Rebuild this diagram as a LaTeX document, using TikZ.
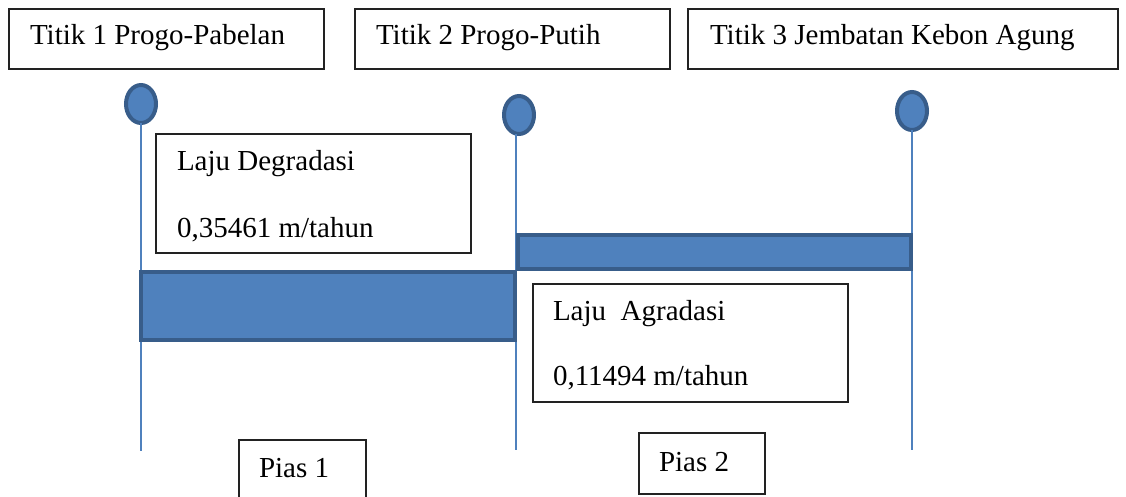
\documentclass[tikz,border=0pt]{standalone}
\usepackage{fontspec}
\setmainfont{Liberation Serif}
\usetikzlibrary{shapes.geometric}
\definecolor{barfill}{HTML}{4F81BD}
\definecolor{barline}{HTML}{385D8A}
\definecolor{boxline}{HTML}{222222}
\tikzset{
  box/.style={draw=boxline, line width=1.3pt, fill=white, inner sep=0pt, outer sep=0pt},
  lbl/.style={inner sep=0pt, outer sep=0pt, anchor=base west, font=\fontsize{29}{34}\selectfont},
  pin/.style={ellipse, draw=barline, fill=barfill, line width=4pt, minimum width=30pt, minimum height=38pt, inner sep=0pt, outer sep=0pt},
  bar/.style={draw=barline, fill=barfill, line width=4pt, inner sep=0pt, outer sep=0pt},
  pole/.style={draw=barfill, line width=1.6pt}
}
\begin{document}
\begin{tikzpicture}[x=1pt,y=-1pt]
\useasboundingbox (0,0) rectangle (1126,497);
% end points of the poles
\coordinate (e1) at (141,451);
\coordinate (e2) at (516,450);
\coordinate (e3) at (912,450);
% pins
\node[pin] (c1) at (141,104) {};
\node[pin] (c2) at (519,115) {};
\node[pin] (c3) at (912,111) {};
% poles
\draw[pole] (c1.south) -- (e1);
\draw[pole] (c2.south -| e2) -- (e2);
\draw[pole] (c3.south) -- (e3);
% bars
\node[bar, minimum width=374pt, minimum height=68pt] (bar1) at (328,306) {};
\node[bar, minimum width=393pt, minimum height=34pt] (bar2) at (714.5,252) {};
% top boxes
\node[box, minimum width=315pt, minimum height=60pt] (b1) at (166.5,39) {};
\node[lbl] (t1) at (30,45) {Titik 1 Progo-Pabelan};
\node[box, minimum width=315pt, minimum height=60pt] (b2) at (512.5,39) {};
\node[lbl] (t2) at (376,45) {Titik 2 Progo-Putih};
\node[box, minimum width=430pt, minimum height=60pt] (b3) at (903,39) {};
\node[lbl] (t3) at (710,45) {Titik 3 Jembatan Kebon Agung};
% rate boxes
\node[box, minimum width=315pt, minimum height=119pt] (rd) at (313.5,193.5) {};
\node[lbl] (rd1) at (177,171) {Laju Degradasi};
\node[lbl] (rd2) at (177,237) {0,35461 m/tahun};
\node[box, minimum width=315pt, minimum height=118pt] (ra) at (690.5,343) {};
\node[lbl] (ra1) at (553,320) {Laju\ \ Agradasi};
\node[lbl] (ra2) at (553,385) {0,11494 m/tahun};
% pias boxes
\node[box, minimum width=127pt, minimum height=70pt] (p1) at (302.5,475) {};
\node[lbl] (pt1) at (259,477) {Pias 1};
\node[box, minimum width=126pt, minimum height=61pt] (p2) at (702,463.5) {};
\node[lbl] (pt2) at (659,471) {Pias 2};
\end{tikzpicture}
\end{document}
